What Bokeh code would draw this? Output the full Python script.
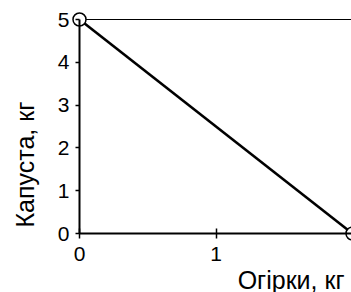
from bokeh.plotting import figure
from bokeh.models import Range1d, FixedTicker, Label
from bokeh.embed import file_html
from bokeh.resources import INLINE

# data
cucumbers = [0, 2]          # Огірки, кг
cabbage = [5, 0]            # Капуста, кг
x_ticks = [0, 1, 2]
y_ticks = [0, 1, 2, 3, 4, 5]
x_title = "Огірки, кг"
y_title = "Капуста, кг"

FONT = "Liberation Sans"
W, H = 351, 292
pxx = 136.5   # px per x unit
pxy = 42.8    # px per y unit
X0 = 79       # pixel of x=0
Y0 = 233      # pixel of y=0

def dx(px):
    return (px - X0) / pxx

def dy(py):
    return (Y0 - py) / pxy

p = figure(width=W, height=H, output_backend="svg", toolbar_location=None,
           x_range=Range1d(dx(0), dx(W)), y_range=Range1d(dy(H), dy(0)),
           min_border=0)
p.outline_line_color = None
p.grid.visible = False
p.background_fill_color = "white"
p.border_fill_color = "white"

for ax in (p.xaxis[0], p.yaxis[0]):
    ax.fixed_location = 0
    ax.axis_line_width = 2
    ax.axis_line_color = "black"
    ax.major_tick_line_color = "black"
    ax.major_tick_line_width = 1.5
    ax.minor_tick_line_color = None
    ax.major_label_text_font = FONT
    ax.major_label_text_font_size = "21px"
    ax.major_label_text_color = "black"

p.xaxis[0].ticker = FixedTicker(ticks=x_ticks)
p.yaxis[0].ticker = FixedTicker(ticks=y_ticks)
p.xaxis[0].bounds = (0, 2)
p.yaxis[0].bounds = (0, 5)
p.xaxis[0].major_tick_in = 5
p.xaxis[0].major_tick_out = 5
p.xaxis[0].major_label_standoff = 8
p.yaxis[0].major_tick_in = 0
p.yaxis[0].major_tick_out = 4
p.yaxis[0].major_label_standoff = 6

# horizontal line at the top level
p.line([cucumbers[0], cucumbers[1]], [cabbage[0], cabbage[0]], line_color="black", line_width=1)
# frontier
p.line(cucumbers, cabbage, line_color="black", line_width=2.6)
p.scatter(cucumbers, cabbage, size=13, fill_color="white", line_color="black", line_width=1.5)

# axis titles
p.add_layout(Label(x=dx(344), y=dy(279), text=x_title,
                   text_align="right", text_baseline="alphabetic",
                   text_font=FONT, text_font_size="25px", text_color="black"))
p.add_layout(Label(x=dx(24), y=dy(227), text=y_title,
                   angle=1.5707963, text_align="left", text_baseline="alphabetic",
                   text_font=FONT, text_font_size="25px", text_color="black"))

open("out.html", "w").write(file_html(p, INLINE))
